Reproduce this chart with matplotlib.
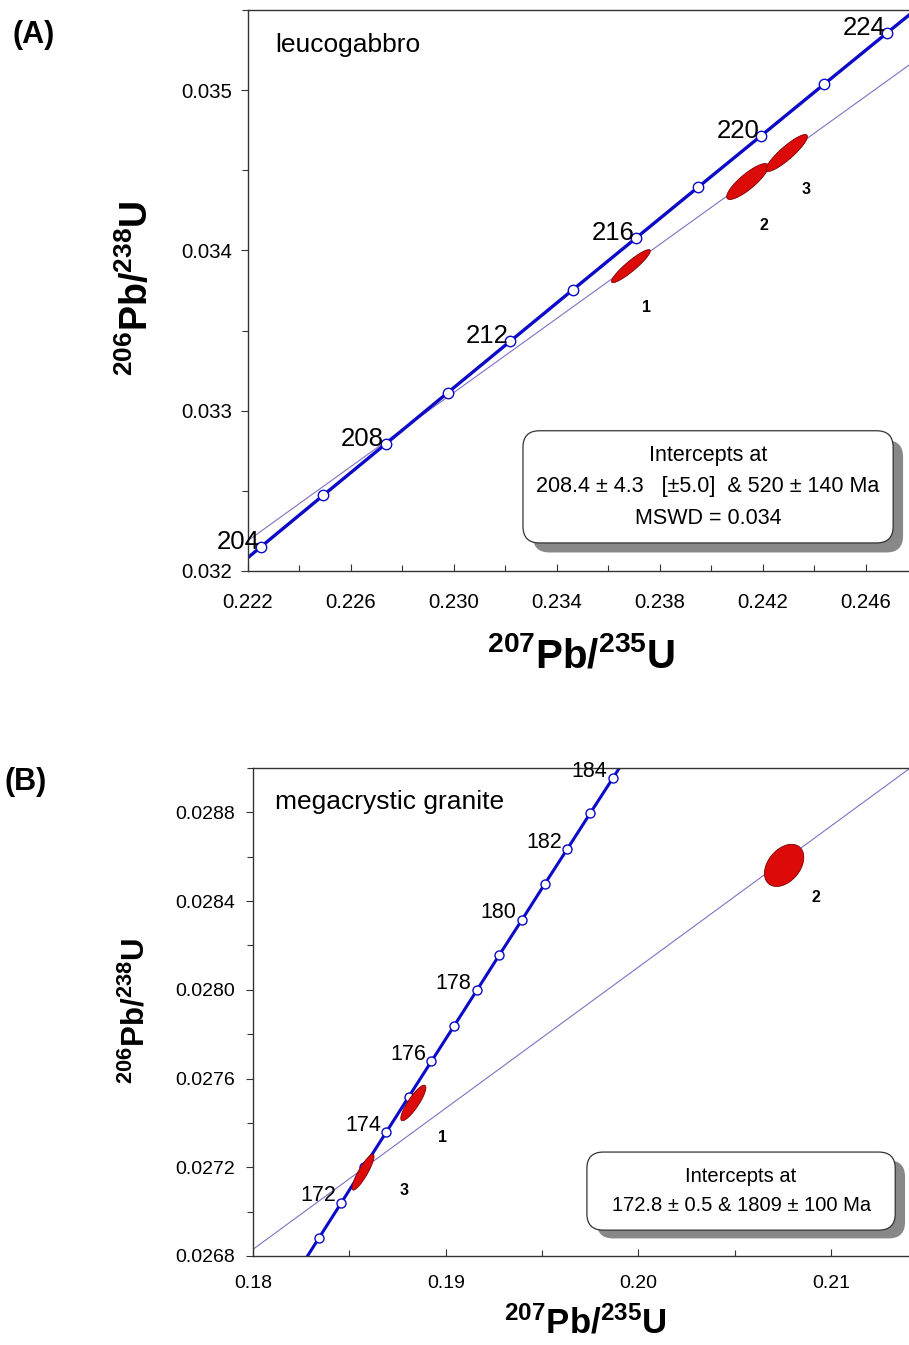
import numpy as np
import matplotlib
matplotlib.use("Agg")
import matplotlib.pyplot as plt
from matplotlib.patches import FancyBboxPatch
from matplotlib.ticker import FixedLocator, MultipleLocator, FormatStrFormatter

plt.rcParams['font.family'] = ['Liberation Sans', 'DejaVu Sans']
plt.rcParams['mathtext.fontset'] = 'custom'
plt.rcParams['mathtext.rm'] = 'Liberation Sans'
plt.rcParams['mathtext.bf'] = 'Liberation Sans:bold'

# ---- panel A: leucogabbro ----
# concordia (207Pb/235U, 206Pb/238U) at ages in Ma
a_ages = [203, 204, 206, 208, 210, 212, 214, 216, 218, 220, 222, 224, 225]
a_x = [0.22131, 0.22251, 0.22492, 0.22734, 0.22976, 0.23218, 0.23461,
       0.23705, 0.23949, 0.24193, 0.24438, 0.24683, 0.24806]
a_y = [0.031991, 0.032152, 0.032472, 0.032792, 0.033113, 0.033433, 0.033754,
       0.034075, 0.034396, 0.034716, 0.035038, 0.035359, 0.035519]
a_marked = [204, 206, 208, 210, 212, 214, 216, 218, 220, 222, 224]
a_labelled = [204, 208, 212, 216, 220, 224]
# discordia end points
a_disc_x = [0.2220, 0.2485]
a_disc_y = [0.03219, 0.035252]
# analyses: centre, 2-sigma half widths, error correlation
a_spot = ['1', '2', '3']
a_cx = [0.23687, 0.24140, 0.24292]
a_cy = [0.033902, 0.034430, 0.034608]
a_sx = [0.000753, 0.00081, 0.000804]
a_sy = [0.000103, 0.000112, 0.000115]
a_rho = [0.92, 0.845, 0.89]
a_box = ["Intercepts at", "208.4 \u00b1 4.3   [\u00b15.0]  & 520 \u00b1 140 Ma", "MSWD = 0.034"]

# ---- panel B: megacrystic granite ----
b_ages = [170, 171, 172, 173, 174, 175, 176, 177, 178, 179, 180, 181, 182, 183, 184, 185]
b_x = [0.18226, 0.18342, 0.18459, 0.18575, 0.18692, 0.18809, 0.18926, 0.19044,
       0.19161, 0.19278, 0.19396, 0.19513, 0.19631, 0.19749, 0.19867, 0.19985]
b_y = [0.026722, 0.026881, 0.027041, 0.027200, 0.027359, 0.027519, 0.027678,
       0.027838, 0.027997, 0.028157, 0.028316, 0.028476, 0.028635, 0.028795,
       0.028954, 0.029114]
b_marked = list(range(171, 185))
b_labelled = [172, 174, 176, 178, 180, 182, 184]
b_disc_x = [0.1800, 0.2150]
b_disc_y = [0.02683, 0.029057]
b_spot = ['1', '3', '2']
b_cx = [0.18832, 0.18571, 0.20756]
b_cy = [0.027490, 0.027178, 0.028561]
b_sx = [0.00065, 0.00057, 0.00102]
b_sy = [0.0000800, 0.0000810, 0.0000950]
b_rho = [0.86, 0.88, 0.38]
b_box = ["Intercepts at", "172.8 \u00b1 0.5 & 1809 \u00b1 100 Ma"]

BLUE = '#0a0ac8'
PURPLE = '#8070c4'
RED = '#dd0a0a'

fig = plt.figure(figsize=(9.09, 13.45), dpi=100)


def ellipse(ax, cx, cy, sx, sy, rho):
    t = np.linspace(0, 2 * np.pi, 200)
    ex = cx + sx * np.cos(t)
    ey = cy + sy * (rho * np.cos(t) + np.sqrt(1 - rho ** 2) * np.sin(t))
    ax.fill(ex, ey, facecolor=RED, edgecolor='#7a0000', linewidth=0.6, zorder=4.5)


def shadow_box(ax, x0, y0, w, h, lines, size, dy):
    asp = ax.bbox.width / ax.bbox.height
    sh = FancyBboxPatch((x0 + 0.015, y0 - 0.017), w, h, transform=ax.transAxes,
                        boxstyle="round,pad=0,rounding_size=0.025", mutation_aspect=asp,
                        facecolor='#888888', edgecolor='none', zorder=5)
    bx = FancyBboxPatch((x0, y0), w, h, transform=ax.transAxes,
                        boxstyle="round,pad=0,rounding_size=0.025", mutation_aspect=asp,
                        facecolor='white', edgecolor='#333333', linewidth=0.9, zorder=6)
    ax.add_patch(sh)
    ax.add_patch(bx)
    n = len(lines)
    for i, s in enumerate(lines):
        ax.text(x0 + w / 2, y0 + h / 2 + (n - 1) / 2 * dy - i * dy, s,
                transform=ax.transAxes, ha='center', va='center', fontsize=size, zorder=7)


def panel(ax, ages, cx_, cy_, marked, labelled, dx, dy, spots, ex, ey, esx, esy, erho,
          lbl_size, lbl_off, lw, ms):
    ax.plot(dx, dy, color=PURPLE, linewidth=0.8, zorder=1)
    ax.plot(cx_, cy_, color=BLUE, linewidth=lw, zorder=2, solid_capstyle='butt')
    mx = [cx_[ages.index(a)] for a in marked]
    my = [cy_[ages.index(a)] for a in marked]
    ax.plot(mx, my, 'o', markersize=ms, markerfacecolor='white', markeredgecolor=BLUE,
            markeredgewidth=1.0, zorder=4)
    for a in labelled:
        i = ages.index(a)
        ax.annotate(str(a), (cx_[i], cy_[i]), xytext=lbl_off, textcoords='offset points',
                    ha='right', va='baseline', fontsize=lbl_size, zorder=4)
    for i in range(len(spots)):
        ellipse(ax, ex[i], ey[i], esx[i], esy[i], erho[i])
    ax.spines['right'].set_visible(False)
    for s in ['left', 'bottom', 'top']:
        ax.spines[s].set_color('#333333')
        ax.spines[s].set_linewidth(1.0)
    ax.tick_params(axis='x', which='both', direction='in', color='#333333')
    ax.tick_params(axis='y', which='both', direction='out', color='#333333')
    ax.tick_params(which='major', length=5, width=0.8)
    ax.tick_params(which='minor', length=4, width=0.8)


# panel A
axA = fig.add_axes([248 / 909, 1 - 571 / 1345, 1 - 248 / 909, 561 / 1345])
panel(axA, a_ages, a_x, a_y, a_marked, a_labelled, a_disc_x, a_disc_y, a_spot,
      a_cx, a_cy, a_sx, a_sy, a_rho, 18.5, (-1, -1.5), 2.4, 7.5)
axA.set_xlim(0.222, 0.24767)
axA.set_ylim(0.032, 0.0355)
axA.xaxis.set_major_locator(FixedLocator(np.arange(0.222, 0.2465, 0.004)))
axA.xaxis.set_minor_locator(FixedLocator(np.arange(0.222, 0.2475, 0.002)))
axA.yaxis.set_major_locator(MultipleLocator(0.001))
axA.yaxis.set_minor_locator(MultipleLocator(0.0005))
axA.xaxis.set_major_formatter(FormatStrFormatter('%.3f'))
axA.yaxis.set_major_formatter(FormatStrFormatter('%.3f'))
axA.tick_params(axis='x', labelsize=14.7, pad=16)
axA.tick_params(axis='y', labelsize=14.7, pad=6.5)
a_off = [(11.5, -29.5), (12, -31.7), (13.7, -26.6)]
for i, s in enumerate(a_spot):
    axA.annotate(s, (a_cx[i], a_cy[i]), xytext=a_off[i], textcoords='offset points',
                 ha='center', va='center', fontsize=11.5, fontweight='bold')
axA.text(0.041, 0.937, "leucogabbro", transform=axA.transAxes, fontsize=19, va='center')
shadow_box(axA, 0.416, 0.05, 0.56, 0.2, a_box, 15.5, 0.056)

fig.text(13 / 909, 1 - 35 / 1345, "(A)", fontsize=22, fontweight='bold', va='center')
fig.text(137 / 909, 1 - 288 / 1345, r'$\mathbf{^{206}Pb/^{238}U}$', rotation=90,
         fontsize=27, ha='center', va='center')
fig.text(581 / 909, 1 - 656 / 1345, r'$\mathbf{^{207}Pb/^{235}U}$',
         fontsize=29, ha='center', va='center')

# panel B
axB = fig.add_axes([253 / 909, 1 - 1256 / 1345, 1 - 253 / 909, 488 / 1345])
panel(axB, b_ages, b_x, b_y, b_marked, b_labelled, b_disc_x, b_disc_y, b_spot,
      b_cx, b_cy, b_sx, b_sy, b_rho, 15.5, (-4, 1), 2.2, 6.5)
axB.set_xlim(0.18, 0.21404)
axB.set_ylim(0.0268, 0.0290)
axB.xaxis.set_major_locator(FixedLocator([0.18, 0.19, 0.20, 0.21]))
axB.xaxis.set_minor_locator(MultipleLocator(0.005))
axB.yaxis.set_major_locator(MultipleLocator(0.0004))
axB.yaxis.set_minor_locator(MultipleLocator(0.0002))
axB.xaxis.set_major_formatter(FormatStrFormatter('%.2f'))
axB.yaxis.set_major_formatter(FormatStrFormatter('%.4f'))
axB.tick_params(axis='x', labelsize=14, pad=14)
axB.tick_params(axis='y', labelsize=14, pad=8)
b_off = [(21, -25), (29.5, -13), (23, -23)]
for i, s in enumerate(b_spot):
    axB.annotate(s, (b_cx[i], b_cy[i]), xytext=b_off[i], textcoords='offset points',
                 ha='center', va='center', fontsize=11.5, fontweight='bold')
axB.text(0.034, 0.93, "megacrystic granite", transform=axB.transAxes, fontsize=19, va='center')
shadow_box(axB, 0.509, 0.053, 0.47, 0.16, b_box, 14.5, 0.058)

fig.text(4 / 909, 1 - 782 / 1345, "(B)", fontsize=22, fontweight='bold', va='center')
fig.text(136 / 909, 1 - 1011 / 1345, r'$\mathbf{^{206}Pb/^{238}U}$', rotation=90,
         fontsize=22.5, ha='center', va='center')
fig.text(585 / 909, 1 - 1323 / 1345, r'$\mathbf{^{207}Pb/^{235}U}$',
         fontsize=25, ha='center', va='center')

fig.savefig("out.png", dpi=100)
